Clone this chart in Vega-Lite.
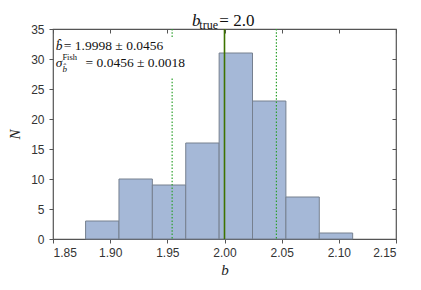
{
  "$schema": "https://vega.github.io/schema/vega-lite/v6.json",
  "width": 343,
  "height": 210,
  "autosize": {"type": "none"},
  "padding": {"left": 53, "top": 29, "right": 25, "bottom": 51},
  "background": "white",
  "config": {
    "view": {"stroke": "#555555", "strokeWidth": 1.2},
    "axis": {
      "labelFont": "Liberation Sans",
      "labelFontSize": 12,
      "labelColor": "#333333",
      "tickColor": "#555555",
      "domainColor": "#555555",
      "grid": false
    }
  },
  "datasets": {
    "hist": [
      {"lo": 1.8785, "hi": 1.9077, "count": 3},
      {"lo": 1.9077, "hi": 1.9369, "count": 10},
      {"lo": 1.9369, "hi": 1.9661, "count": 9},
      {"lo": 1.9661, "hi": 1.9953, "count": 16},
      {"lo": 1.9953, "hi": 2.0245, "count": 31},
      {"lo": 2.0245, "hi": 2.0537, "count": 23},
      {"lo": 2.0537, "hi": 2.0829, "count": 7},
      {"lo": 2.0829, "hi": 2.1121, "count": 1}
    ],
    "truth": [{"b": 2.0}],
    "sigma": [{"b": 1.9542}, {"b": 2.0454}],
    "box": [{"x": 1.8515, "x2": 1.965, "y": 33.6, "y2": 27.0}],
    "italictext": [
      {"x": 1.8525, "y": 31.45, "text": "b̂"},
      {"x": 1.8525, "y": 28.7, "text": "σ"}
    ],
    "bigtext": [
      {"x": 1.8595, "y": 31.45, "text": "= 1.9998 ± 0.0456"},
      {"x": 1.8785, "y": 28.7, "text": "= 0.0456 ± 0.0018"}
    ],
    "smalltext": [
      {"x": 1.8582, "y": 29.8, "text": "Fish"}
    ],
    "smallitalic": [
      {"x": 1.8582, "y": 27.8, "text": "b̂"}
    ],
    "titleb": [{"x": 1.9716, "y": 35.5, "text": "b"}],
    "titlesub": [{"x": 1.978, "y": 35.08, "text": "true"}],
    "titlerest": [{"x": 1.9955, "y": 35.5, "text": "= 2.0"}]
  },
  "resolve": {"axis": {"x": "independent", "y": "independent"}},
  "layer": [
    {
      "data": {"name": "hist"},
      "mark": {"type": "rect", "fill": "#a5b8d7", "stroke": "#76808f", "strokeWidth": 1},
      "encoding": {
        "x": {
          "field": "lo", "type": "quantitative",
          "scale": {"domain": [1.85, 2.15], "nice": false, "zero": false},
          "axis": {
            "orient": "bottom",
            "values": [1.85, 1.9, 1.95, 2.0, 2.05, 2.1, 2.15],
            "format": ".2f",
            "tickSize": 4,
            "labelPadding": 4,
            "domain": false,
            "title": "b",
            "titleFont": "Liberation Serif",
            "titleFontStyle": "italic",
            "titleFontWeight": "normal",
            "titleFontSize": 15,
            "titleColor": "#222222",
            "titlePadding": 4
          }
        },
        "x2": {"field": "hi"},
        "y": {
          "field": "count", "type": "quantitative",
          "scale": {"domain": [0, 35], "nice": false},
          "axis": {
            "orient": "left",
            "values": [0, 5, 10, 15, 20, 25, 30, 35],
            "tickSize": 4,
            "labelPadding": 5,
            "domain": false,
            "title": "N",
            "titleFont": "Liberation Serif",
            "titleFontStyle": "italic",
            "titleFontWeight": "normal",
            "titleFontSize": 15,
            "titleColor": "#222222",
            "titlePadding": 8
          }
        },
        "y2": {"datum": 0}
      }
    },
    {
      "data": {"name": "sigma"},
      "mark": {"type": "rule", "stroke": "#2ca02c", "strokeWidth": 1.2, "strokeDash": [1.5, 1.8]},
      "encoding": {
        "x": {"field": "b", "type": "quantitative", "axis": {
          "orient": "top", "labels": false, "title": null, "domain": false,
          "values": [1.85, 1.9, 1.95, 2.0, 2.05, 2.1, 2.15], "tickSize": -4}}
      }
    },
    {
      "data": {"name": "truth"},
      "mark": {"type": "rule", "stroke": "#3d7300", "strokeWidth": 1.6},
      "encoding": {
        "x": {"field": "b", "type": "quantitative", "axis": null}
      }
    },
    {
      "data": {"name": "box"},
      "mark": {"type": "rect", "fill": "white"},
      "encoding": {
        "x": {"field": "x", "type": "quantitative", "axis": null},
        "x2": {"field": "x2"},
        "y": {"field": "y", "type": "quantitative", "axis": {
          "orient": "right", "labels": false, "title": null, "domain": false,
          "values": [0, 5, 10, 15, 20, 25, 30, 35], "tickSize": -4}},
        "y2": {"field": "y2"}
      }
    },
    {
      "data": {"name": "italictext"},
      "mark": {"type": "text", "font": "Liberation Serif", "fontStyle": "italic", "fontSize": 13.5, "align": "left", "baseline": "alphabetic", "color": "#111111"},
      "encoding": {
        "x": {"field": "x", "type": "quantitative", "axis": null},
        "y": {"field": "y", "type": "quantitative", "axis": null},
        "text": {"field": "text"}
      }
    },
    {
      "data": {"name": "bigtext"},
      "mark": {"type": "text", "font": "Liberation Serif", "fontSize": 13.5, "align": "left", "baseline": "alphabetic", "color": "#111111"},
      "encoding": {
        "x": {"field": "x", "type": "quantitative", "axis": null},
        "y": {"field": "y", "type": "quantitative", "axis": null},
        "text": {"field": "text"}
      }
    },
    {
      "data": {"name": "smalltext"},
      "mark": {"type": "text", "font": "Liberation Serif", "fontSize": 8.5, "align": "left", "baseline": "alphabetic", "color": "#111111"},
      "encoding": {
        "x": {"field": "x", "type": "quantitative", "axis": null},
        "y": {"field": "y", "type": "quantitative", "axis": null},
        "text": {"field": "text"}
      }
    },
    {
      "data": {"name": "smallitalic"},
      "mark": {"type": "text", "font": "Liberation Serif", "fontStyle": "italic", "fontSize": 9, "align": "left", "baseline": "alphabetic", "color": "#111111"},
      "encoding": {
        "x": {"field": "x", "type": "quantitative", "axis": null},
        "y": {"field": "y", "type": "quantitative", "axis": null},
        "text": {"field": "text"}
      }
    },
    {
      "data": {"name": "titleb"},
      "mark": {"type": "text", "font": "Liberation Serif", "fontStyle": "italic", "fontSize": 17, "align": "left", "baseline": "alphabetic", "color": "#111111"},
      "encoding": {
        "x": {"field": "x", "type": "quantitative", "axis": null},
        "y": {"field": "y", "type": "quantitative", "axis": null},
        "text": {"field": "text"}
      }
    },
    {
      "data": {"name": "titlesub"},
      "mark": {"type": "text", "font": "Liberation Serif", "fontSize": 12, "align": "left", "baseline": "alphabetic", "color": "#111111"},
      "encoding": {
        "x": {"field": "x", "type": "quantitative", "axis": null},
        "y": {"field": "y", "type": "quantitative", "axis": null},
        "text": {"field": "text"}
      }
    },
    {
      "data": {"name": "titlerest"},
      "mark": {"type": "text", "font": "Liberation Serif", "fontSize": 17, "align": "left", "baseline": "alphabetic", "color": "#111111"},
      "encoding": {
        "x": {"field": "x", "type": "quantitative", "axis": null},
        "y": {"field": "y", "type": "quantitative", "axis": null},
        "text": {"field": "text"}
      }
    }
  ]
}
